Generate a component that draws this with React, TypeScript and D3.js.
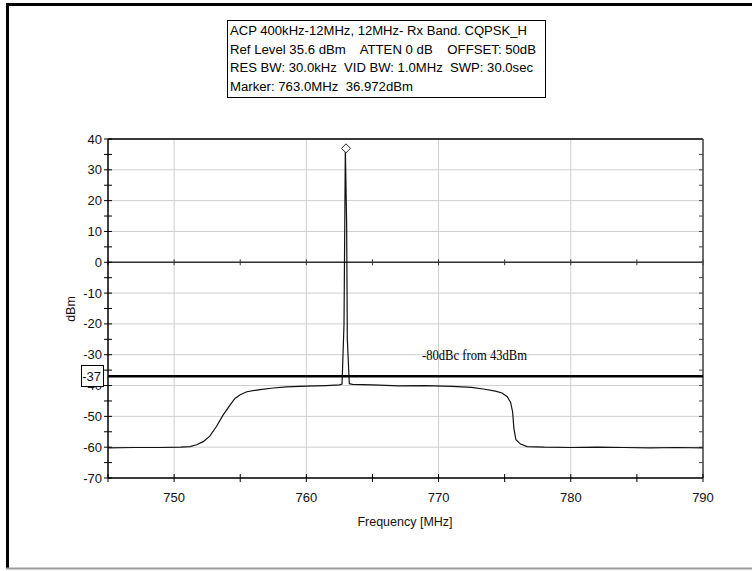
import React from 'react';
import * as d3 from 'd3';

// trace (MHz, dBm)
const freqs = [745, 747, 749, 750.5, 751.2, 751.7, 752.2, 752.7, 753.2, 753.7, 754.2, 754.6, 755.0, 755.5, 756.5, 757.5, 758.5, 760, 761.5, 762.5, 762.7, 762.85, 762.95, 763.05, 763.1, 763.25, 763.5, 765, 767, 769, 771, 772.5, 773.5, 774.3, 774.8, 775.2, 775.45, 775.6, 775.7, 775.85, 776.2, 776.7, 778, 780, 782, 784, 786, 788, 790];
const levels = [-60.2, -60.1, -60.1, -60, -59.8, -59.2, -58.2, -56.4, -53.3, -49.6, -46.5, -44.2, -43, -42, -41.3, -40.8, -40.4, -40.2, -40, -39.8, -39.5, -20, 37, 12, -25, -39.4, -39.6, -39.8, -40.1, -40, -40.3, -40.6, -41.2, -41.8, -42.4, -43.6, -45.5, -48.5, -54, -57.6, -59, -59.8, -60, -60.1, -60, -60.1, -60.2, -60.1, -60.2];

const xTicks = [750, 760, 770, 780, 790];
const yTicks = [40, 30, 20, 10, 0, -10, -20, -30, -40, -50, -60, -70];
const infoLines = [
  'ACP 400kHz-12MHz, 12MHz- Rx Band. CQPSK_H',
  'Ref Level 35.6 dBm    ATTEN 0 dB    OFFSET: 50dB',
  'RES BW: 30.0kHz  VID BW: 1.0MHz  SWP: 30.0sec',
  'Marker: 763.0MHz  36.972dBm',
];
const infoWidths = [297, 306, 303, 183];
const limitLevel = -37;
const limitText = '-80dBc from 43dBm';
const markerFreq = 763.0;
const markerLevel = 36.972;

export default function App() {
  const left = 108, right = 703, top = 139, bottom = 478;
  const x = d3.scaleLinear().domain([745, 790]).range([left, right]);
  const y = d3.scaleLinear().domain([-70, 40]).range([bottom, top]);

  const data = freqs.map((f, i) => ({ f, v: levels[i] }));
  const line = d3.line<{ f: number; v: number }>().x(d => x(d.f)).y(d => y(d.v));

  const minorY = d3.range(-70, 41, 5);
  const minorX = d3.range(745, 791, 5);
  const font = 'Arial, "Liberation Sans", sans-serif';
  const mx = x(markerFreq), my = y(markerLevel);

  return (
    <svg width={752} height={571} style={{ position: 'absolute', left: 0, top: 0, background: '#fff' }} fontFamily={font}>
      {/* outer window frame */}
      <line x1={6} x2={752} y1={4.5} y2={4.5} stroke="#000" strokeWidth={3} />
      <line x1={7.5} x2={7.5} y1={3} y2={569} stroke="#000" strokeWidth={3} />
      <line x1={6} x2={752} y1={568.5} y2={568.5} stroke="#999" strokeWidth={2} />

      {/* info box */}
      <rect x={227.5} y={20.5} width={318} height={77} fill="#fff" stroke="#000" />
      {infoLines.map((t, i) => (
        <text key={i} x={230} y={35 + i * 18.7} fontSize={12.5} textLength={infoWidths[i]} lengthAdjust="spacingAndGlyphs" style={{ whiteSpace: 'pre' }}>{t}</text>
      ))}

      {/* grid */}
      {xTicks.map(t => (
        <line key={'gx' + t} x1={x(t)} x2={x(t)} y1={top} y2={bottom} stroke="#cfcfcf" />
      ))}
      {yTicks.map(t => (
        <line key={'gy' + t} x1={left} x2={right} y1={y(t)} y2={y(t)} stroke="#cfcfcf" />
      ))}

      {/* zero line with ticks */}
      <line x1={left} x2={right} y1={y(0)} y2={y(0)} stroke="#333" strokeWidth={1.5} />
      {minorX.map(t => (
        <line key={'zx' + t} x1={x(t)} x2={x(t)} y1={y(0) - 3} y2={y(0) + 3} stroke="#333" />
      ))}

      {/* plot frame */}
      <line x1={left} x2={right} y1={top} y2={top} stroke="#000" strokeWidth={1.5} />
      <line x1={left} x2={right} y1={bottom} y2={bottom} stroke="#000" strokeWidth={1.5} />
      <line x1={left} x2={left} y1={top} y2={bottom} stroke="#000" strokeWidth={1.5} />
      <line x1={right} x2={right} y1={top} y2={bottom} stroke="#444" strokeWidth={1.5} />
      {minorY.map(t => (
        <g key={'ty' + t}>
          <line x1={left - 4} x2={left + 4} y1={y(t)} y2={y(t)} stroke="#000" />
          <line x1={right - 4} x2={right} y1={y(t)} y2={y(t)} stroke="#444" />
        </g>
      ))}
      {minorX.map(t => (
        <line key={'tx' + t} x1={x(t)} x2={x(t)} y1={bottom - 4} y2={bottom + 4} stroke="#000" />
      ))}

      {/* tick labels */}
      {yTicks.map(t => (
        <text key={'ly' + t} x={left - 6} y={y(t) + 4.5} textAnchor="end" fontSize={13} fill="#111">{t}</text>
      ))}
      {xTicks.map(t => (
        <text key={'lx' + t} x={x(t)} y={502} textAnchor="middle" fontSize={13} fill="#111">{t}</text>
      ))}
      <text x={405} y={526} textAnchor="middle" fontSize={12.5} fill="#111">Frequency [MHz]</text>
      <text transform="translate(75,309) rotate(-90)" textAnchor="middle" fontSize={12.5} fill="#111">dBm</text>

      {/* trace */}
      <path d={line(data) ?? ''} fill="none" stroke="#111" strokeWidth={1.2} />

      {/* marker diamond */}
      <path d={`M${mx},${my - 4.5}L${mx + 4.5},${my}L${mx},${my + 4.5}L${mx - 4.5},${my}Z`} fill="#fff" stroke="#222" />

      {/* limit line */}
      <line x1={left} x2={right} y1={y(limitLevel)} y2={y(limitLevel)} stroke="#000" strokeWidth={2.5} />
      <text x={422} y={360} fontSize={14.5} fontFamily='"Liberation Serif", "Times New Roman", serif' textLength={105} lengthAdjust="spacingAndGlyphs">{limitText}</text>
      <rect x={81.5} y={365.5} width={22} height={21} fill="#fff" stroke="#000" />
      <text x={101} y={y(limitLevel) + 4.5} textAnchor="end" fontSize={13} fill="#111">{limitLevel}</text>
    </svg>
  );
}
